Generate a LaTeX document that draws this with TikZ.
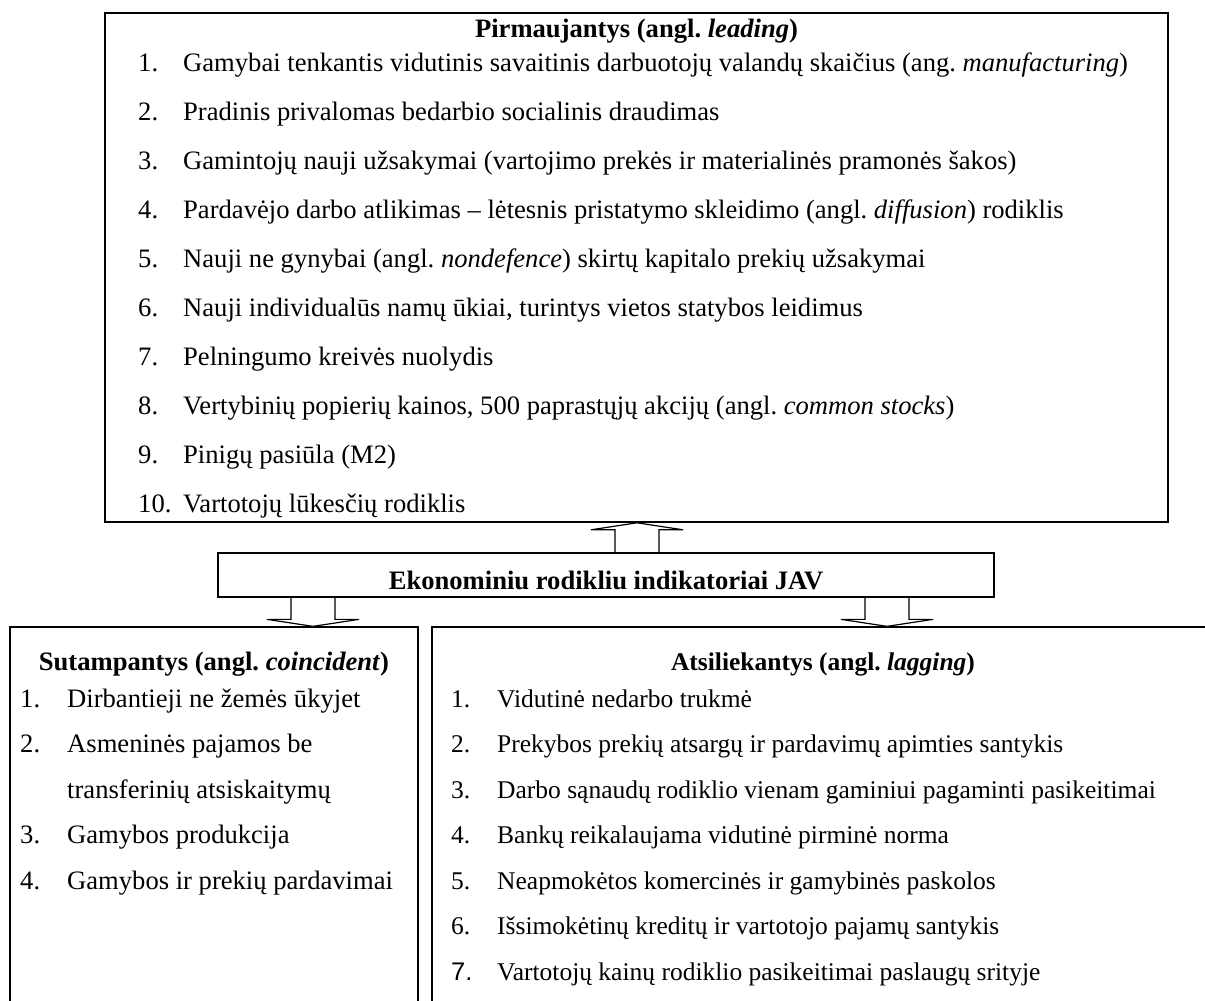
\documentclass[tikz,border=0pt]{standalone}
\usepackage{fontspec}
\setmainfont{Liberation Serif}
\newfontfamily\arialfont{Liberation Sans}
\usetikzlibrary{calc}

\tikzset{
  box/.style={draw, line width=1.3pt, inner sep=0pt},
  item/.style={anchor=base west, inner sep=0pt},
  head/.style={anchor=base, inner sep=0pt},
  smaller/.style={font=\fontsize{25.5pt}{30pt}\selectfont\frenchspacing},
  arrowline/.style={line width=1.2pt, line join=miter},
}

% hollow block arrow from #1 to the tip #2
\newcommand{\hollowarrow}[2]{%
  \draw[arrowline] let \p1=(#1), \p2=($(#2)!7pt!(#1)$) in
    (\x1-22pt,\y1) -- (\x1-22pt,\y2) -- (\x1-46pt,\y2) -- (#2)
    -- (\x1+46pt,\y2) -- (\x1+22pt,\y2) -- (\x1+22pt,\y1);
}

\begin{document}
\begin{tikzpicture}[x=1pt, y=-1pt, font=\fontsize{26.6pt}{31pt}\selectfont\frenchspacing]
  \useasboundingbox (0,0) rectangle (1205,1001);
  \clip (0,0) rectangle (1205,1001);

  % Define boxes
  \node[box, line width=1.6pt, minimum width=1063pt, minimum height=509pt] (lead) at (636.5,267.5) {};
  \node[box, minimum width=776pt, text height=36pt, text depth=8pt] (core) at (606,575)
    {\textbf{Ekonominiu rodikliu indikatoriai JAV}};
  \node[box, minimum width=408pt, minimum height=420pt] (coinc) at (214,837) {};
  \node[box, minimum width=800pt, minimum height=420pt] (lag) at (832,837) {};

  % Leading indicators
  \node[head] (lead-title) at (636.5,37) {\textbf{Pirmaujantys (angl. \textit{leading})}};
  \foreach \t [count=\i] in {
      {Gamybai tenkantis vidutinis savaitinis darbuotojų valandų skaičius (ang. \textit{manufacturing})},
      {Pradinis privalomas bedarbio socialinis draudimas},
      {Gamintojų nauji užsakymai (vartojimo prekės ir materialinės pramonės šakos)},
      {Pardavėjo darbo atlikimas – lėtesnis pristatymo skleidimo (angl. \textit{diffusion}) rodiklis},
      {Nauji ne gynybai (angl. \textit{nondefence}) skirtų kapitalo prekių užsakymai},
      {Nauji individualūs namų ūkiai, turintys vietos statybos leidimus},
      {Pelningumo kreivės nuolydis},
      {Vertybinių popierių kainos, 500 paprastųjų akcijų (angl. \textit{common stocks})},
      {Pinigų pasiūla (M2)},
      {Vartotojų lūkesčių rodiklis}}{
    \node[item] (lead-n\i) at (138,{71+49*(\i-1)}) {\i.};
    \node[item] (lead-t\i) at (183,{71+49*(\i-1)}) {\t};
  }

  % Coincident indicators
  \node[head] (coinc-title) at (214,670) {\textbf{Sutampantys (angl. \textit{coincident})}};
  \node[item] (coinc-n1) at (20,707) {1.};
  \node[item] (coinc-t1) at (67,707) {Dirbantieji ne žemės ūkyjet};
  \node[item] (coinc-n2) at (20,752.5) {2.};
  \node[item] (coinc-t2) at (67,752.5) {Asmeninės pajamos be};
  \node[item] (coinc-t2b) at (67,798) {transferinių atsiskaitymų};
  \node[item] (coinc-n3) at (20,843.5) {3.};
  \node[item] (coinc-t3) at (67,843.5) {Gamybos produkcija};
  \node[item] (coinc-n4) at (20,889) {4.};
  \node[item] (coinc-t4) at (67,889) {Gamybos ir prekių pardavimai};

  % Lagging indicators
  \node[head, smaller] (lag-title) at (823,670) {\textbf{Atsiliekantys (angl. \textit{lagging})}};
  \foreach \t [count=\i] in {
      {Vidutinė nedarbo trukmė},
      {Prekybos prekių atsargų ir pardavimų apimties santykis},
      {Darbo sąnaudų rodiklio vienam gaminiui pagaminti pasikeitimai},
      {Bankų reikalaujama vidutinė pirminė norma},
      {Neapmokėtos komercinės ir gamybinės paskolos},
      {Išsimokėtinų kreditų ir vartotojo pajamų santykis}}{
    \node[item, smaller] (lag-n\i) at (451,{707+45.5*(\i-1)}) {\i.};
    \node[item, smaller] (lag-t\i) at (497,{707+45.5*(\i-1)}) {\t};
  }
  \node[item, smaller] (lag-n7) at (451,980) {\arialfont 7.};
  \node[item, smaller] (lag-t7) at (497,980) {Vartotojų kainų rodiklio pasikeitimai paslaugų srityje};

  % Draw arrows
  \coordinate (upx) at (637,0);
  \coordinate (lx) at (313,0);
  \coordinate (rx) at (887,0);
  \hollowarrow{core.north -| upx}{lead.south -| upx}
  \hollowarrow{core.south -| lx}{coinc.north -| lx}
  \hollowarrow{core.south -| rx}{lag.north -| rx}
\end{tikzpicture}
\end{document}
